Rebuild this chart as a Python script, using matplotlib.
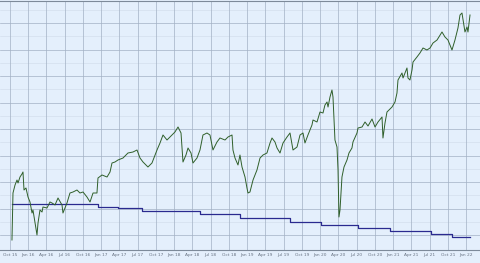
import matplotlib
matplotlib.use("Agg")
import matplotlib.pyplot as plt
import numpy as np

# Price series (decimal year, index level)
price_t = [2015.777, 2015.791, 2015.819, 2015.846, 2015.860, 2015.887, 2015.914, 2015.928, 2015.942, 2015.969,
           2015.997, 2016.024, 2016.052, 2016.065, 2016.093, 2016.120, 2016.134, 2016.161, 2016.189, 2016.202,
           2016.257, 2016.298, 2016.326, 2016.367, 2016.408, 2016.463, 2016.476, 2016.531, 2016.572, 2016.614,
           2016.668, 2016.709, 2016.751, 2016.805, 2016.847, 2016.888, 2016.942, 2016.956, 2017.011, 2017.080,
           2017.121, 2017.148, 2017.189, 2017.230, 2017.299, 2017.367, 2017.436, 2017.491, 2017.532, 2017.573,
           2017.641, 2017.696, 2017.765, 2017.806, 2017.847, 2017.902, 2017.943, 2018.011, 2018.053, 2018.094,
           2018.121, 2018.162, 2018.190, 2018.231, 2018.258, 2018.313, 2018.354, 2018.395, 2018.450, 2018.491,
           2018.532, 2018.587, 2018.628, 2018.697, 2018.738, 2018.793, 2018.806, 2018.834, 2018.875, 2018.902,
           2018.930, 2018.971, 2018.998, 2019.012, 2019.039, 2019.081, 2019.135, 2019.177, 2019.218, 2019.272,
           2019.314, 2019.341, 2019.382, 2019.410, 2019.451, 2019.492, 2019.547, 2019.588, 2019.629, 2019.684,
           2019.725, 2019.766, 2019.793, 2019.834, 2019.889, 2019.903, 2019.958, 2019.999, 2020.040, 2020.067,
           2020.095, 2020.109, 2020.136, 2020.163, 2020.177, 2020.204, 2020.232, 2020.246, 2020.259, 2020.273,
           2020.287, 2020.300, 2020.328, 2020.369, 2020.396, 2020.437, 2020.451, 2020.506, 2020.520, 2020.575,
           2020.616, 2020.657, 2020.712, 2020.753, 2020.794, 2020.849, 2020.862, 2020.890, 2020.917, 2020.986,
           2021.027, 2021.054, 2021.068, 2021.123, 2021.137, 2021.191, 2021.205, 2021.232, 2021.260, 2021.274,
           2021.328, 2021.369, 2021.411, 2021.465, 2021.507, 2021.548, 2021.603, 2021.671, 2021.712, 2021.753,
           2021.808, 2021.849, 2021.890, 2021.918, 2021.945, 2021.986, 2022.014, 2022.027, 2022.055]
price_v = [10, 57, 65, 70, 67, 73, 76, 78, 60, 62,
           53, 48, 37, 40, 27, 15, 27, 40, 38, 43,
           42, 48, 47, 45, 52, 45, 37, 47, 57, 58,
           60, 57, 58, 53, 48, 57, 57, 72, 75, 73,
           78, 87, 88, 90, 92, 97, 98, 100, 92, 88,
           83, 87, 100, 107, 115, 110, 113, 118, 123, 117,
           88, 95, 102, 97, 87, 92, 100, 115, 117, 115,
           100, 108, 112, 110, 113, 115, 100, 92, 85, 95,
           83, 73, 62, 57, 58, 70, 80, 92, 95, 97,
           107, 112, 108, 102, 97, 107, 113, 117, 100, 103,
           115, 117, 107, 115, 125, 130, 128, 138, 137, 145,
           148, 143, 153, 160, 153, 110, 103, 80, 33, 40,
           57, 73, 83, 90, 97, 102, 108, 117, 122, 123,
           128, 124, 131, 123, 128, 133, 112, 127, 138, 143,
           148, 157, 170, 177, 172, 182, 172, 170, 180, 188,
           193, 197, 202, 200, 202, 207, 210, 218, 213, 210,
           200, 210, 222, 235, 237, 218, 223, 218, 235]

# Step series (start decimal year, level)
step_t = [2015.777, 2016.956, 2017.230, 2017.565, 2018.354, 2018.902, 2019.588, 2020.012, 2020.520,
          2020.958, 2021.520, 2021.808, 2022.055]
step_v = [46, 43, 42, 39, 36, 32, 28, 25, 22, 19, 16, 13, 13]

tick_labels = ["Oct 15", "Jan 16", "Apr 16", "Jul 16", "Oct 16", "Jan 17", "Apr 17", "Jul 17", "Oct 17",
               "Jan 18", "Apr 18", "Jul 18", "Oct 18", "Jan 19", "Apr 19", "Jul 19", "Oct 19",
               "Jan 20", "Apr 20", "Jul 20", "Oct 20", "Jan 21", "Apr 21", "Jul 21", "Oct 21", "Jan 22"]
tick_pos = [2015.75 + 0.25 * i for i in range(len(tick_labels))]

bg = "#e4effc"
fig = plt.figure(figsize=(4.8, 2.63), dpi=100, facecolor=bg)
ax = fig.add_axes([0, 1 - 250 / 263, 1, 249 / 263])
ax.set_facecolor(bg)

ax.set_xlim(2015.613, 2022.192)
ax.set_ylim(0, 249)

# gridlines
for k in range(10):
    y = 15 + 26.5 * k
    ax.axhline(y, color="#a3b1c4", lw=0.5, zorder=1)
    ax.axhline(y + 13.25, color="#cfdbea", lw=0.4, zorder=1)
for t in tick_pos:
    ax.axvline(t, color="#a3b1c4", lw=0.5, zorder=1)

ax.step(step_t, step_v, where="post", color="#2a2a8f", lw=0.9, zorder=3)
ax.plot(price_t, price_v, color="#2f5f2a", lw=0.7, zorder=4)

ax.set_xticks(tick_pos)
ax.set_xticklabels(tick_labels, fontsize=3.2, color="#6a7585")
ax.tick_params(axis="x", length=0, pad=2)
ax.set_yticks([])
for s in ["left", "right"]:
    ax.spines[s].set_visible(False)
ax.spines["top"].set_color("#7d8a9a")
ax.spines["bottom"].set_color("#7d8a9a")
ax.spines["top"].set_linewidth(0.8)
ax.spines["bottom"].set_linewidth(0.8)

fig.savefig("out.png", dpi=100, facecolor=bg)
